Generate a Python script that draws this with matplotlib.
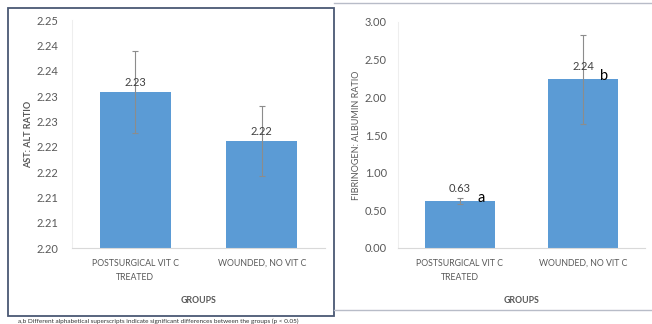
import matplotlib
matplotlib.use('Agg')
import numpy as np
import matplotlib.pyplot as plt
import matplotlib.patches as mpatches
import matplotlib.lines as mlines

plt.rcParams['font.family'] = ['Lato', 'DejaVu Sans']

groups = ["POSTSURGICAL VIT C\nTREATED", "WOUNDED, NO VIT C"]

# left panel: AST/ALT ratio
ast_alt = [2.2307, 2.2211]
ast_alt_err = [0.0081, 0.0069]
ast_ticks = [2.200, 2.205, 2.210, 2.215, 2.220, 2.225, 2.230, 2.235, 2.240, 2.245]
ast_ticklabels = ["2.20", "2.21", "2.21", "2.22", "2.22", "2.23", "2.23", "2.24", "2.24", "2.25"]

# right panel: fibrinogen/albumin ratio
fib_alb = [0.63, 2.24]
fib_alb_err = [0.04, 0.59]
fib_letters = ["a", "b"]
fib_ticks = [0.0, 0.5, 1.0, 1.5, 2.0, 2.5, 3.0]

caption = "a,b Different alphabetical superscripts indicate significant differences between the groups (p < 0.05)"

bar_col = "#5B9BD5"
txt_col = "#595959"
W, H = 652., 324.

fig = plt.figure(figsize=(6.52, 3.24), dpi=100)

def box(l, t, r, b):
    return [l/W, 1-b/H, (r-l)/W, (b-t)/H]

ax1 = fig.add_axes(box(72, 20, 325, 248))
ax2 = fig.add_axes(box(398, 22, 645, 248))

x = np.arange(len(groups))

for ax in (ax1, ax2):
    for s in ["top", "right"]:
        ax.spines[s].set_visible(False)
    ax.spines["left"].set_color("#eeeeee")
    ax.spines["bottom"].set_color("#d9d9d9")
    ax.tick_params(length=0, colors=txt_col, labelsize=8)
    ax.set_xticks(x)
    ax.set_xticklabels(groups, fontsize=6.3, color=txt_col, linespacing=1.7)
    for lbl in ax.get_xticklabels():
        lbl.set_multialignment("center")
    ax.tick_params(axis="x", pad=8)
    ax.set_xlim(-0.5, 1.5)
    ax.set_xlabel("GROUPS", fontsize=6.3, fontweight="bold", color=txt_col, labelpad=10)

# left
ax1.bar(x, np.array(ast_alt) - 2.20, bottom=2.20, width=0.56, color=bar_col, zorder=2)
ax1.errorbar(x, ast_alt, yerr=ast_alt_err, fmt="none", ecolor="#8c8c8c",
             elinewidth=0.8, capsize=2, capthick=0.8, zorder=3)
ax1.set_ylim(2.20, 2.245)
ax1.set_yticks(ast_ticks)
ax1.set_yticklabels(ast_ticklabels)
ax1.tick_params(axis="y", pad=10)
ax1.set_ylabel("AST: ALT RATIO", fontsize=6.5, fontweight="bold", color=txt_col, labelpad=2)
for i in range(len(ast_alt)):
    ax1.annotate("%.2f" % ast_alt[i], (x[i], ast_alt[i]), xytext=(0, 3), textcoords="offset points",
                 ha="center", va="bottom", fontsize=8, color="#404040", zorder=4)

# right
ax2.bar(x, fib_alb, width=0.57, color=bar_col, zorder=2)
ax2.errorbar(x, fib_alb, yerr=fib_alb_err, fmt="none", ecolor="#8c8c8c",
             elinewidth=0.8, capsize=2, capthick=0.8, zorder=3)
ax2.set_ylim(0, 3)
ax2.set_yticks(fib_ticks)
ax2.set_yticklabels(["%.2f" % t for t in fib_ticks])
ax2.tick_params(axis="y", pad=8)
ax2.set_ylabel("FIBRINOGEN: ALBUMIN RATIO", fontsize=6.5, color=txt_col, labelpad=3)
for i in range(len(fib_alb)):
    ax2.annotate("%.2f" % fib_alb[i], (x[i], fib_alb[i]), xytext=(0, 5), textcoords="offset points",
                 ha="center", va="bottom", fontsize=8, color="#404040", zorder=4)
    ax2.annotate(fib_letters[i], (x[i] + 0.17, fib_alb[i]), xytext=(0, 2), textcoords="offset points",
                 ha="center", va="center", fontsize=10.5, color="black", zorder=4)

# panel frames
fig.add_artist(mpatches.Rectangle((8/W, 1-316/H), (334-8)/W, (316-8)/H, transform=fig.transFigure,
                                  fill=False, edgecolor="#4a5874", linewidth=1.3))
fig.add_artist(mlines.Line2D([334/W, 1], [1-3/H, 1-3/H], transform=fig.transFigure,
                             color="#b8bcc8", linewidth=1.0))
fig.add_artist(mlines.Line2D([334/W, 1], [1-310/H, 1-310/H], transform=fig.transFigure,
                             color="#b8bcc8", linewidth=1.0))

# footnote below the panels
fig.text(18/W, 1-323.5/H, caption, ha="left", va="bottom", fontsize=4.6, color="#333333")

fig.savefig("out.png", dpi=100)
plt.close()
